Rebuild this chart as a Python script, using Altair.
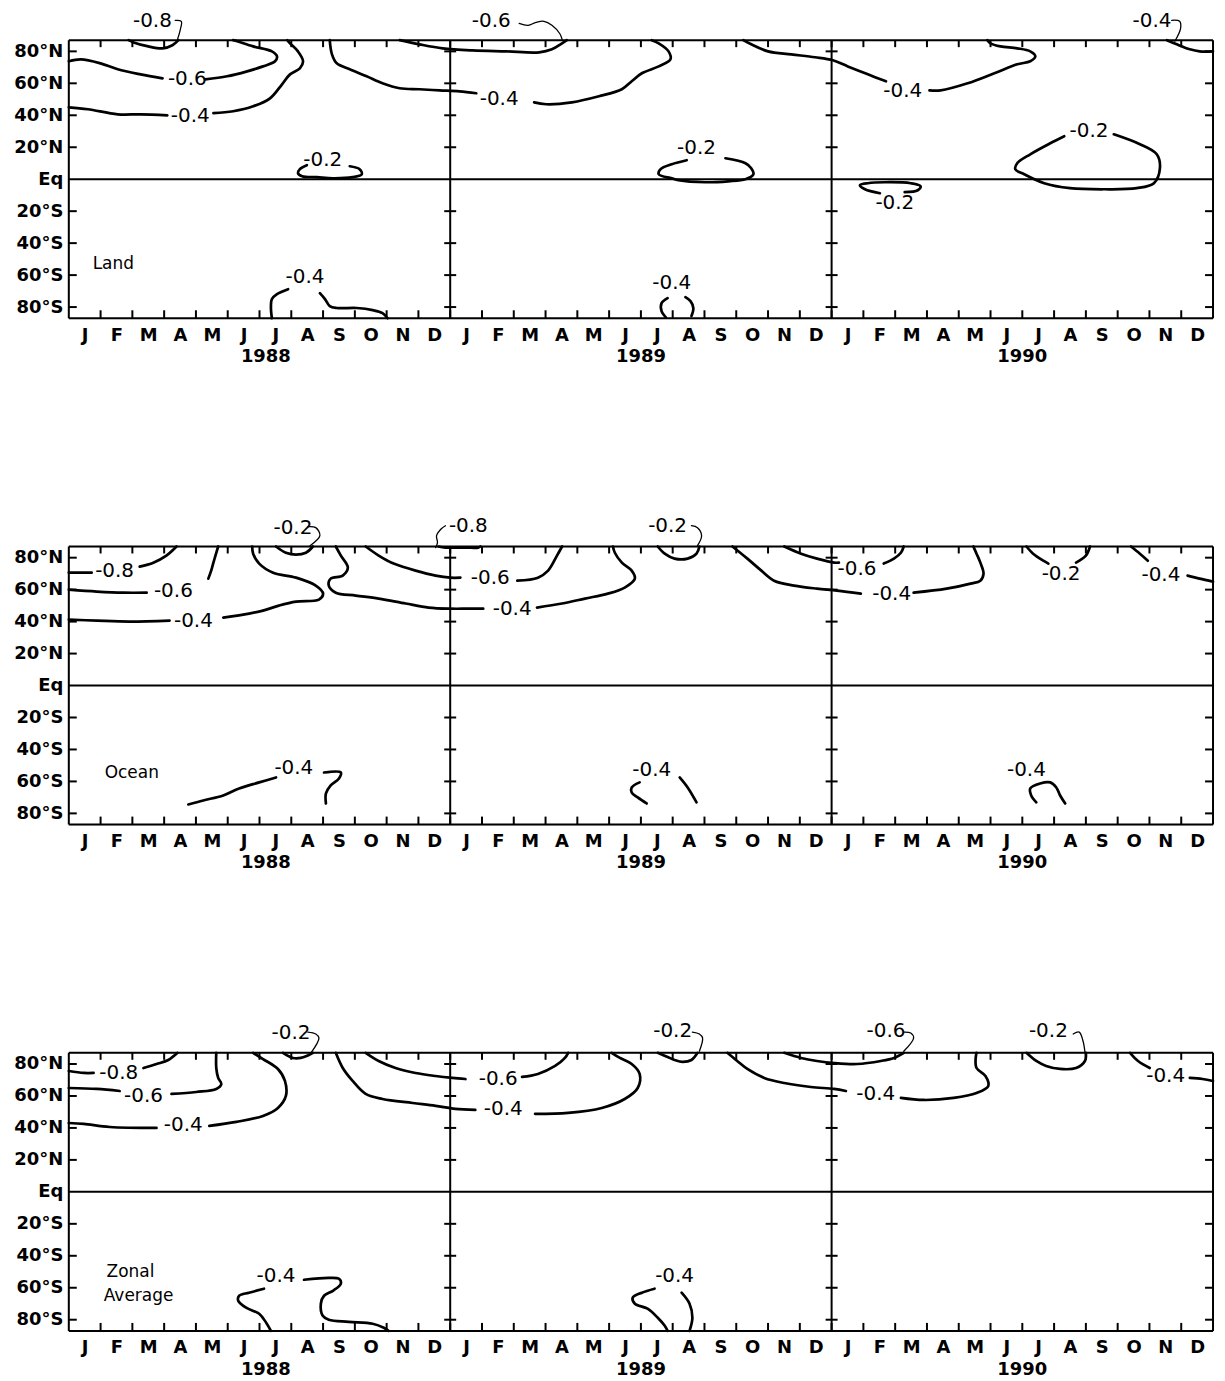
import json
import altair as alt
import pandas as pd

FONT = "DejaVu Sans"
W, H = 1148, 279

MONTH_LETTERS = ["J", "F", "M", "A", "M", "J", "J", "A", "S", "O", "N", "D"]
MONTH_CENTERS = [m + 0.5 for m in range(36)]
MONTH_BOUNDS = list(range(1, 36))
YEAR_DIVIDERS = [12, 24]
YEARS = ["1988", "1989", "1990"]
YEAR_POS = [6.2, 18.0, 30.0]
LAT_TICKS = [-80, -60, -40, -20, 0, 20, 40, 60, 80]
EDGE_TICKS = [-80, -60, -40, -20, 20, 40, 60, 80]

# ---------------- Land ----------------
LAND_LINES = {
    "m08": [(1.88, 87), (2.04, 85.6), (2.5, 83.1), (2.95, 81.9), (3.26, 83.8), (3.45, 87)],
    "m06a": [(0, 73.8), (0.38, 75), (1.0, 72.5), (1.54, 68.8), (2.26, 65.6), (2.95, 63.1)],
    "m06b": [(4.29, 62.5), (4.98, 64.4), (5.61, 67.5), (6.11, 70.6), (6.49, 73.8), (6.55, 76.9),
             (6.39, 80), (5.8, 83.1), (5.3, 86.3), (5.17, 87)],
    "m04a": [(0, 45), (0.6, 43.8), (1.54, 40.6), (2.26, 40.6), (3.1, 40)],
    "m04b": [(4.55, 41.3), (5.17, 42.5), (5.8, 45.6), (6.33, 50.6), (6.71, 59.4), (6.96, 65.6),
             (7.27, 69.4), (7.37, 73.8), (7.21, 80), (6.96, 85), (6.87, 87)],
    "m04c": [(8.21, 87), (8.28, 78.1), (8.43, 72.5), (8.84, 68.8), (9.37, 64.4), (9.87, 60),
             (10.41, 56.9), (11.03, 56.3), (11.66, 55.6), (12.29, 55), (12.82, 53.8)],
    "m04d": [(14.64, 48.1), (15.02, 46.9), (15.83, 48.1), (16.68, 51.9), (17.4, 56.3), (17.71, 61.3),
             (18.03, 66.3), (18.56, 70.6), (18.93, 75), (18.87, 80), (18.56, 85), (18.34, 87)],
    "m06c": [(10.41, 87), (11.03, 84.4), (11.76, 81.9), (12.7, 80.6), (13.76, 80), (14.8, 79.4),
             (15.2, 81.3), (15.52, 85), (15.67, 87)],
    "m04e": [(21.22, 87), (21.47, 84.4), (22.0, 80), (22.73, 78.1), (23.48, 76.3), (24.04, 74.4),
             (24.51, 70.6), (25.14, 65.6), (25.71, 61.3)],
    "m04f": [(27.08, 55.6), (27.43, 55.6), (28.28, 60), (29.12, 66.3), (29.84, 71.9), (30.25, 73.8),
             (30.41, 76.9), (30.25, 80), (29.84, 81.9), (29.31, 83.1), (29.0, 85), (28.9, 87)],
    "m04g": [(34.55, 87), (34.86, 84.4), (35.27, 81.3), (35.58, 80), (36, 80)],
    "m02a": [(7.49, 8.8), (7.27, 6.3), (7.21, 3.8), (7.34, 1.9), (7.81, 1.3), (8.31, 0.6),
             (8.93, 1.3), (9.22, 3.1), (9.15, 6.3), (8.84, 8.1)],
    "m02b": [(19.44, 11.9), (18.97, 9.4), (18.62, 6.3), (18.56, 3.1), (18.97, 0.6), (19.18, -0.6),
             (20.03, -1.9), (20.75, -1.3), (21.29, 0), (21.54, 3.1), (21.47, 6.9), (21.29, 10), (20.66, 13.1)],
    "m02c": [(31.32, 26.9), (30.88, 22.5), (30.25, 15.6), (29.84, 10), (29.78, 6.3), (30.06, 3.1),
             (30.69, -2.5), (31.5, -5.6), (32.57, -6.3), (33.6, -5.6), (34.14, -2.5), (34.33, 6.9),
             (34.23, 15.6), (33.7, 21.9), (32.88, 28.1)],
    "m02d": [(25.52, -8.8), (25.05, -6.3), (24.89, -3.8), (25.14, -2.5), (25.67, -1.9), (26.49, -2.5),
             (26.8, -4.4), (26.71, -6.9), (26.3, -8.1)],
    "s88a": [(6.39, -87), (6.36, -80.6), (6.39, -75), (6.55, -71.9), (6.9, -68.8)],
    "s88b": [(7.9, -71.3), (8.06, -75), (8.21, -79.4), (8.43, -80.6), (9.06, -80.6), (9.56, -81.9),
             (9.87, -83.8), (10.03, -87)],
    "s89a": [(18.84, -74.4), (18.65, -77.5), (18.65, -82.5), (18.78, -86.3)],
    "s89b": [(19.4, -73.8), (19.56, -76.3), (19.65, -80.6), (19.59, -85.6)],
}
LAND_ARROWS = {
    "a8": [(3.35, 99.4), (3.54, 98.8), (3.51, 93.8), (3.42, 87.5)],
    "a6": [(14.17, 97.5), (14.45, 96.3), (14.7, 98.1), (14.95, 98.8), (15.2, 96.3), (15.45, 91), (15.52, 87.5)],
    "a4": [(34.7, 99.4), (34.95, 98.8), (34.98, 94.4), (34.8, 86.3)],
}
LAND_LABELS = [
    (2.63, 98.8, "-0.8"), (3.73, 62.5, "-0.6"), (3.82, 39.4, "-0.4"), (13.54, 50, "-0.4"),
    (13.29, 98.8, "-0.6"), (26.24, 55, "-0.4"), (34.08, 98.8, "-0.4"), (7.99, 11.9, "-0.2"),
    (19.75, 19.4, "-0.2"), (32.1, 30, "-0.2"), (25.99, -15, "-0.2"), (7.43, -61.3, "-0.4"),
    (18.97, -65, "-0.4"),
]
LAND_NAME = [(0.75, -53, "Land")]

# ---------------- Ocean ----------------
OCEAN_LINES = {
    "o8a": [(0, 70.6), (0.72, 70.6)],
    "o8b": [(2.23, 74.4), (2.66, 76.9), (3.07, 81.3), (3.39, 87)],
    "o6a": [(0, 60), (0.88, 58.8), (1.72, 58.1), (2.45, 58.1)],
    "o6b": [(4.39, 66.9), (4.48, 71.9), (4.55, 76.9), (4.7, 87)],
    "o4a": [(0, 41.3), (0.88, 40.6), (1.91, 40), (3.17, 40.6)],
    "o4b": [(4.86, 42.5), (5.67, 45), (6.11, 46.9), (6.61, 50), (7.15, 52.5), (7.87, 53.8), (8.0, 57.5),
            (7.77, 62.5), (7.15, 67.5), (6.43, 70.6), (5.99, 76.3), (5.8, 82.5), (5.77, 87)],
    "o2a": [(6.52, 87), (6.83, 83.1), (7.15, 81.9), (7.46, 83.1), (7.68, 87)],
    "o4c": [(8.4, 87), (8.56, 81.3), (8.78, 73.8), (8.62, 68.8), (8.24, 66.9), (8.18, 62.5), (8.4, 58.1),
            (9.03, 56.3), (9.75, 54.4), (10.6, 51.3), (11.32, 48.8), (12.0, 48.1), (12.57, 48.1), (13.04, 48.1)],
    "o4d": [(14.73, 48.8), (15.52, 51.3), (16.24, 54.4), (16.96, 57.5), (17.49, 61.3), (17.81, 66.9),
            (17.71, 71.9), (17.4, 76.9), (17.18, 83.1), (17.12, 87)],
    "o6c": [(9.34, 87), (9.75, 81.3), (10.03, 78.1), (10.22, 76.3), (10.91, 71.9), (11.54, 68.8),
            (12.0, 67.5), (12.32, 67.5)],
    "o6d": [(14.11, 65.6), (14.76, 67.5), (15.08, 71.9), (15.36, 81.3), (15.52, 87)],
    "o8c": [(11.63, 87), (11.85, 86.3), (12.48, 86.3), (12.88, 86.3), (12.95, 87)],
    "o2b": [(18.53, 87), (18.75, 82.5), (19.06, 79.4), (19.47, 79.4), (19.75, 82.5), (19.84, 87)],
    "o4e": [(20.88, 87), (21.35, 79.4), (21.79, 71.9), (22.19, 65.6), (22.82, 62.5), (23.54, 60.6),
            (24.17, 59.4), (24.92, 57.5)],
    "o4f": [(26.58, 58.1), (27.62, 60.6), (28.37, 63.8), (28.68, 65.6), (28.78, 70), (28.68, 76.9),
            (28.56, 82.5), (28.46, 87)],
    "o6e": [(22.51, 87), (23.04, 82.5), (23.54, 79.4), (24.08, 76.9), (24.23, 76.9)],
    "o6f": [(25.64, 76.3), (25.96, 79.4), (26.18, 83.1), (26.27, 87)],
    "o2c": [(30.13, 87), (30.34, 82.5), (30.66, 78.1), (30.82, 76.3)],
    "o2d": [(31.69, 76.9), (32.0, 81.3), (32.13, 87)],
    "o4g": [(33.42, 87), (33.7, 82.5), (33.95, 78.1)],
    "o4h": [(35.2, 68.8), (35.58, 66.9), (36, 65)],
    "os88a": [(3.76, -74.4), (4.23, -71.9), (4.86, -68.8), (5.36, -64.4), (5.99, -60.6), (6.52, -57.5)],
    "os88b": [(8.03, -54.4), (8.56, -54.4), (8.5, -58.1), (8.24, -62.5), (8.09, -67.5), (8.09, -73.8)],
    "os89a": [(17.96, -60.6), (17.71, -63.8), (17.71, -66.9), (17.9, -70), (18.18, -73.8)],
    "os89b": [(19.22, -57.5), (19.47, -63.8), (19.75, -73.1)],
    "os90": [(30.44, -73.1), (30.28, -68.8), (30.25, -64.4), (30.56, -61.3), (30.88, -60.6),
             (31.07, -63.8), (31.19, -68.8), (31.35, -73.8)],
}
OCEAN_ARROWS = {
    "a2a": [(7.52, 99.4), (7.77, 98.8), (7.9, 93.8), (7.59, 87.5)],
    "a8": [(11.85, 100), (11.72, 98.1), (11.57, 93.8), (11.6, 89.4), (11.54, 86.3)],
    "a2b": [(19.59, 100), (19.78, 98.8), (19.91, 93.8), (19.78, 87.5)],
}
OCEAN_LABELS = [
    (1.44, 71.9, "-0.8"), (3.29, 59.4, "-0.6"), (3.92, 40.6, "-0.4"), (7.05, 98.8, "-0.2"),
    (13.95, 48.1, "-0.4"), (13.26, 67.5, "-0.6"), (12.57, 100, "-0.8"), (18.84, 100, "-0.2"),
    (25.89, 57.5, "-0.4"), (24.8, 73.1, "-0.6"), (31.22, 70, "-0.2"), (34.36, 69.4, "-0.4"),
    (7.08, -51.3, "-0.4"), (18.34, -53.1, "-0.4"), (30.13, -53.1, "-0.4"),
]
OCEAN_NAME = [(1.13, -55, "Ocean")]

# ---------------- Zonal average ----------------
ZONAL_LINES = {
    "z8a": [(0, 75.6), (0.47, 74.4), (0.78, 74.4)],
    "z8b": [(2.35, 77.5), (2.76, 80), (3.13, 82.5), (3.42, 87)],
    "z6a": [(0, 65), (0.88, 64.4), (1.6, 63.1)],
    "z6b": [(3.23, 61.3), (4.01, 62.5), (4.64, 64.4), (4.8, 67.5), (4.7, 71.3), (4.64, 77.5), (4.64, 87)],
    "z4a": [(0, 43.1), (0.47, 42.5), (1.29, 40.6), (2.76, 40)],
    "z4b": [(4.42, 41.3), (5.27, 43.8), (6.11, 47.5), (6.58, 52.5), (6.83, 60), (6.8, 69.4),
            (6.58, 76.9), (6.11, 83.1), (5.8, 87)],
    "z2a": [(6.74, 87), (7.05, 83.8), (7.3, 83.8), (7.55, 85.6), (7.68, 87)],
    "z4c": [(8.4, 87), (8.62, 77.5), (8.93, 69.4), (9.34, 61.3), (9.87, 58.1), (10.82, 55.6),
            (11.54, 53.8), (12.16, 51.9), (12.79, 51.3)],
    "z4d": [(14.67, 48.8), (15.71, 49.4), (16.77, 52.5), (17.49, 58.1), (17.9, 65), (17.96, 73.8),
            (17.71, 80), (17.34, 83.8), (17.08, 87)],
    "z6c": [(9.34, 87), (9.75, 81.9), (10.28, 77.5), (10.91, 74.4), (11.54, 72.5), (12.07, 71.3), (12.48, 70.6)],
    "z6d": [(14.26, 71.9), (14.76, 73.8), (15.3, 78.8), (15.61, 83.8), (15.71, 87)],
    "z2b": [(18.53, 87), (18.84, 84.4), (19.06, 82.5), (19.31, 81.3), (19.59, 82.5), (19.78, 87)],
    "z4e": [(20.72, 87), (21.03, 81.9), (21.35, 76.9), (21.88, 71.3), (22.51, 68.1), (23.35, 65.6),
            (24.08, 64.4), (24.45, 63.1)],
    "z4f": [(26.18, 58.8), (26.9, 57.5), (27.84, 58.8), (28.56, 61.9), (28.93, 66.3), (28.84, 72.5),
            (28.56, 77.5), (28.53, 83.1), (28.56, 87)],
    "z6e": [(22.51, 87), (23.04, 83.8), (23.54, 81.9), (24.08, 80.6), (24.8, 80), (25.55, 81.9),
            (25.96, 83.8), (26.27, 87)],
    "z2c": [(30.13, 87), (30.44, 81.9), (30.75, 78.8), (31.19, 76.9), (31.69, 77.5), (31.97, 81.9), (32.0, 87)],
    "z4g": [(33.39, 87), (33.64, 81.9), (34.01, 77.5)],
    "z4h": [(35.27, 71.3), (35.67, 70.6), (36, 69.4)],
    "zs88a": [(6.36, -87), (6.21, -81.9), (5.99, -76.3), (5.58, -72.5), (5.33, -68.1), (5.36, -65),
              (5.67, -63.1), (6.14, -60.6)],
    "zs88b": [(7.4, -55), (8.18, -53.8), (8.5, -54.4), (8.56, -57.5), (8.31, -61.9), (8.03, -65),
              (7.93, -70), (7.99, -77.5), (8.18, -80), (8.81, -81.3), (9.56, -82.5), (9.91, -85), (10.06, -87)],
    "zs89a": [(18.43, -60.6), (18.03, -63.1), (17.74, -66.3), (17.81, -70), (18.21, -73.1),
              (18.53, -78.8), (18.75, -83.8), (18.84, -87)],
    "zs89b": [(19.28, -63.1), (19.53, -70), (19.62, -78.8), (19.53, -87)],
}
ZONAL_ARROWS = {
    "a2a": [(7.52, 100), (7.77, 98.8), (7.87, 96.3), (7.62, 87)],
    "a2b": [(19.62, 100), (19.84, 98.8), (19.94, 96.3), (19.84, 88)],
    "a6": [(26.27, 100), (26.49, 99.4), (26.58, 96.3), (26.27, 88)],
    "a2c": [(31.6, 98.8), (31.79, 100), (31.91, 94.4), (31.97, 87.5)],
}
ZONAL_LABELS = [
    (1.57, 74.4, "-0.8"), (2.35, 60, "-0.6"), (3.6, 41.9, "-0.4"), (6.99, 99.4, "-0.2"),
    (13.67, 51.9, "-0.4"), (13.51, 70.6, "-0.6"), (19.0, 100.6, "-0.2"), (25.39, 61.3, "-0.4"),
    (25.71, 100.6, "-0.6"), (30.82, 100.6, "-0.2"), (34.51, 72.5, "-0.4"),
    (6.52, -52.5, "-0.4"), (19.06, -52.5, "-0.4"),
]
ZONAL_NAME = [(1.19, -50, "Zonal"), (1.1, -65, "Average")]


def seg_df(segs):
    rows = []
    for name, pts in segs.items():
        for i, (m, la) in enumerate(pts):
            rows.append({"seg": name, "i": i, "month": m, "lat": la})
    return pd.DataFrame(rows)


def txt_df(items):
    return pd.DataFrame([{"month": m, "lat": la, "label": t} for m, la, t in items])


x_scale = alt.Scale(domain=[0, 36], nice=False, zero=False)
y_scale = alt.Scale(domain=[-87, 87], nice=False, zero=False)
x_axis = alt.Axis(
    values=MONTH_CENTERS,
    labelExpr=json.dumps(MONTH_LETTERS) + "[floor(datum.value) % 12]",
    ticks=False, domain=False, grid=False, title=None,
    labelFont=FONT, labelFontSize=18, labelFontWeight="bold", labelColor="black",
    labelPadding=8, labelFlush=False, labelOverlap=False,
)
y_axis = alt.Axis(
    values=LAT_TICKS,
    labelExpr="datum.value == 0 ? 'Eq' : abs(datum.value) + '°' + (datum.value > 0 ? 'N' : 'S')",
    ticks=False, domain=False, grid=False, title=None,
    labelFont=FONT, labelFontSize=18, labelFontWeight="bold", labelColor="black",
    labelPadding=6, labelOverlap=False,
)
X = alt.X("month:Q", scale=x_scale, axis=x_axis)
Y = alt.Y("lat:Q", scale=y_scale, axis=y_axis)


def panel(lines, arrows, labels, names):
    contour = alt.Chart(seg_df(lines)).mark_line(
        color="black", strokeWidth=2.7, interpolate="catmull-rom", strokeCap="round", strokeJoin="round"
    ).encode(x=X, y=Y, detail="seg:N", order="i:Q")
    arrow = alt.Chart(seg_df(arrows)).mark_line(
        color="black", strokeWidth=1.3, interpolate="catmull-rom", strokeCap="round"
    ).encode(x=X, y=Y, detail="seg:N", order="i:Q")
    lab = alt.Chart(txt_df(labels)).mark_text(
        font=FONT, fontSize=20, color="black"
    ).encode(x=X, y=Y, text="label:N")
    name = alt.Chart(txt_df(names)).mark_text(
        font=FONT, fontSize=17, color="black", align="left"
    ).encode(x=X, y=Y, text="label:N")
    eq = alt.Chart(pd.DataFrame({"lat": [0]})).mark_rule(color="black", strokeWidth=2).encode(y=Y)
    div = alt.Chart(pd.DataFrame({"month": YEAR_DIVIDERS})).mark_rule(
        color="black", strokeWidth=2).encode(x=X)
    frame_h = alt.Chart(pd.DataFrame({"edge": [0, H]})).mark_rule(
        color="black", strokeWidth=2).encode(y=alt.Y("edge:Q", scale=None), x=alt.value(0), x2=alt.value(W))
    frame_v = alt.Chart(pd.DataFrame({"edge": [0, W]})).mark_rule(
        color="black", strokeWidth=2).encode(x=alt.X("edge:Q", scale=None), y=alt.value(0), y2=alt.value(H))
    top_t = alt.Chart(pd.DataFrame({"month": MONTH_BOUNDS})).mark_rule(
        color="black", strokeWidth=2).encode(x=X, y=alt.value(0), y2=alt.value(7))
    bot_t = alt.Chart(pd.DataFrame({"month": MONTH_BOUNDS})).mark_rule(
        color="black", strokeWidth=2).encode(x=X, y=alt.value(H), y2=alt.value(H - 8))
    left_t = alt.Chart(pd.DataFrame({"lat": EDGE_TICKS})).mark_rule(
        color="black", strokeWidth=2).encode(y=Y, x=alt.value(0), x2=alt.value(8))
    right_t = alt.Chart(pd.DataFrame({"lat": EDGE_TICKS})).mark_rule(
        color="black", strokeWidth=2).encode(y=Y, x=alt.value(W), x2=alt.value(W - 8))
    div_rows = [{"month": d, "lat": la} for d in YEAR_DIVIDERS for la in EDGE_TICKS]
    div_t = alt.Chart(pd.DataFrame(div_rows)).mark_rule(
        color="black", strokeWidth=2, xOffset=-6, x2Offset=6).encode(x=X, x2="month:Q", y=Y)
    years = alt.Chart(pd.DataFrame({"month": YEAR_POS, "label": YEARS})).mark_text(
        font=FONT, fontSize=18, fontWeight="bold", color="black"
    ).encode(x=X, y=alt.value(H + 39), text="label:N")
    return alt.layer(
        eq, div, top_t, bot_t, left_t, right_t, div_t, contour, arrow, lab, name, years,
        frame_h, frame_v,
    ).properties(width=W, height=H)


p1 = panel(LAND_LINES, LAND_ARROWS, LAND_LABELS, LAND_NAME)
p2 = panel(OCEAN_LINES, OCEAN_ARROWS, OCEAN_LABELS, OCEAN_NAME)
p3 = panel(ZONAL_LINES, ZONAL_ARROWS, ZONAL_LABELS, ZONAL_NAME)

chart = alt.vconcat(p1, p2, p3, spacing=229, bounds="flush").properties(
    padding={"left": 5, "top": 0, "right": 2, "bottom": 2}
).configure_view(stroke=None).configure(background="white")

chart.save("out.html", embed_options={"renderer": "svg", "actions": False})
